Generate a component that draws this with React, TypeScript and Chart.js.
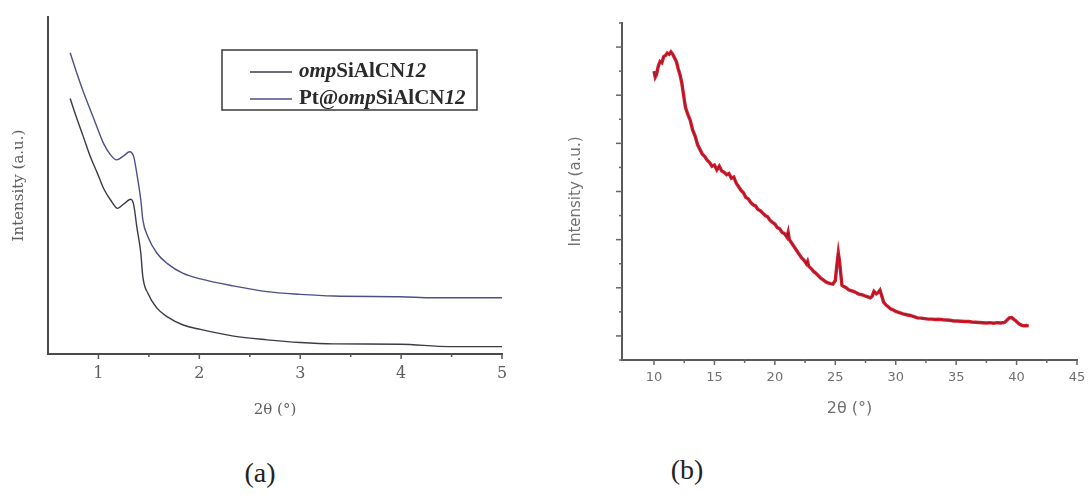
import React, { useEffect, useRef } from "react";
import { Chart, registerables } from "chart.js";

Chart.register(...registerables);

// ---------- Panel (a) data ----------
const legendLabels = ["ompSiAlCN12", "Pt@ompSiAlCN12"];
// rich-text pieces of each legend label (italic flags)
const legendParts = [
  [
    { t: "omp", i: true },
    { t: "SiAlCN", i: false },
    { t: "12", i: true },
  ],
  [
    { t: "Pt@", i: false },
    { t: "omp", i: true },
    { t: "SiAlCN", i: false },
    { t: "12", i: true },
  ],
];

const ompX = [0.72, 0.78, 0.85, 0.92, 0.99, 1.05, 1.12, 1.19, 1.25, 1.32, 1.35, 1.38, 1.42, 1.44, 1.49, 1.58, 1.68, 1.84, 2.01, 2.34, 2.67, 3.0, 3.33, 3.99, 4.48, 5.0];
const ompY = [75.8, 70.4, 64.5, 58.5, 53.6, 49.2, 45.7, 43.2, 44.5, 45.9, 44.2, 37.8, 29.9, 22.9, 18.0, 13.6, 11.1, 8.6, 7.3, 5.3, 4.2, 3.4, 3.0, 2.9, 2.2, 2.2];

const ptX = [0.72, 0.78, 0.85, 0.92, 0.99, 1.05, 1.12, 1.18, 1.25, 1.31, 1.35, 1.38, 1.42, 1.44, 1.49, 1.58, 1.68, 1.84, 2.01, 2.34, 2.67, 3.0, 3.33, 3.99, 4.32, 5.0];
const ptY = [89.4, 83.8, 77.8, 72.4, 67.0, 62.5, 59.1, 57.6, 58.8, 60.0, 58.5, 53.6, 45.7, 39.8, 34.8, 29.9, 26.9, 23.9, 22.3, 20.2, 18.5, 17.7, 17.2, 17.0, 16.7, 16.7];

const aXTicks = [1, 2, 3, 4, 5];
const aXMinor = [1.5, 2.5, 3.5, 4.5];

// ---------- Panel (b) data ----------
const bX = [
  10.0, 10.1, 10.2, 10.35, 10.5, 10.65, 10.8, 10.95, 11.1, 11.25, 11.4, 11.55, 11.7, 11.85, 12.0, 12.15, 12.3, 12.45, 12.6, 12.8,
  13.0, 13.2, 13.4, 13.6, 13.8, 14.0, 14.2, 14.4, 14.6, 14.8, 15.0, 15.2, 15.4, 15.6, 15.8, 16.0, 16.2, 16.4, 16.6, 16.8,
  17.0, 17.2, 17.4, 17.6, 17.8, 18.0, 18.2, 18.4, 18.6, 18.8, 19.0, 19.2, 19.4, 19.6, 19.8, 20.0, 20.2, 20.4, 20.6, 20.8,
  21.0, 21.1, 21.2, 21.4, 21.6, 21.8, 22.0, 22.2, 22.4, 22.6, 22.7, 22.8, 23.0, 23.2, 23.4, 23.6, 23.8, 24.0, 24.2, 24.4,
  24.6, 24.8, 25.0, 25.1, 25.25, 25.35, 25.45, 25.55, 25.7, 25.9, 26.1, 26.3, 26.5, 26.7, 26.9, 27.1, 27.3, 27.5, 27.7, 27.9,
  28.05, 28.2, 28.4, 28.55, 28.7, 28.85, 29.0, 29.2, 29.4, 29.6, 29.8, 30.0, 30.3, 30.6, 30.9, 31.2, 31.5, 31.8, 32.1, 32.4,
  32.7, 33.0, 33.3, 33.6, 33.9, 34.2, 34.5, 34.8, 35.1, 35.4, 35.7, 36.0, 36.3, 36.6, 36.9, 37.2, 37.5, 37.8, 38.1, 38.4,
  38.7, 39.0, 39.2, 39.4, 39.6, 39.8, 40.0, 40.2, 40.4, 40.6, 40.8, 41.0,
];
const bY = [
  11.0, 10.75, 10.85, 11.2, 11.4, 11.35, 11.6, 11.65, 11.75, 11.7, 11.8, 11.7, 11.55, 11.4, 11.1, 10.85, 10.5, 10.0, 9.5, 9.2,
  8.95, 8.55, 8.3, 7.95, 7.75, 7.55, 7.45, 7.3, 7.2, 7.05, 7.1, 6.9, 7.05, 6.85, 6.8, 6.7, 6.75, 6.55, 6.6, 6.35,
  6.2, 6.05, 5.95, 5.75, 5.7, 5.55, 5.45, 5.4, 5.25, 5.2, 5.1, 5.0, 4.95, 4.8, 4.72, 4.65, 4.5, 4.45, 4.3, 4.25,
  4.1, 4.3, 4.0, 3.85, 3.7, 3.55, 3.4, 3.25, 3.15, 3.0, 3.1, 2.9, 2.8, 2.68, 2.6, 2.5, 2.4, 2.33, 2.25, 2.2,
  2.17, 2.15, 2.3, 2.8, 3.45, 3.1, 2.6, 2.1, 2.05, 2.0, 1.92, 1.88, 1.85, 1.8, 1.75, 1.72, 1.7, 1.65, 1.62, 1.58,
  1.65, 1.85, 1.75, 1.8, 1.9, 1.65, 1.4, 1.28, 1.2, 1.12, 1.08, 1.02, 0.97, 0.92, 0.88, 0.85, 0.8, 0.75, 0.74, 0.72,
  0.7, 0.7, 0.68, 0.69, 0.67, 0.66, 0.65, 0.62, 0.62, 0.61, 0.6, 0.6, 0.58, 0.57, 0.56, 0.55, 0.54, 0.55, 0.53, 0.55,
  0.54, 0.56, 0.65, 0.75, 0.76, 0.68, 0.6, 0.5, 0.45, 0.42, 0.43, 0.42,
];

const bXTicks = [10, 15, 20, 25, 30, 35, 40, 45];
const bXMinor = [12.5, 17.5, 22.5, 27.5, 32.5, 37.5, 42.5];
const bYMajor = [0, 2, 4, 6, 8, 10, 12];
const bYMinor = [-1, 1, 3, 5, 7, 9, 11, 13];

const xTitle = "2θ (°)";
const yTitle = "Intensity (a.u.)";

const toPts = (xs: number[], ys: number[]) => xs.map((x, i) => ({ x, y: ys[i] }));

const manualTicks = {
  id: "manualTicks",
  afterDraw(chart: any, _args: any, opts: any) {
    const ctx = chart.ctx;
    const area = chart.chartArea;
    const xs = chart.scales.x;
    const ys = chart.scales.y;
    ctx.save();
    ctx.strokeStyle = opts.color;
    ctx.lineWidth = 1.5;
    const line = (x1: number, y1: number, x2: number, y2: number) => {
      ctx.beginPath();
      ctx.moveTo(x1, y1);
      ctx.lineTo(x2, y2);
      ctx.stroke();
    };
    (opts.xMajor || []).forEach((v: number) => {
      const p = xs.getPixelForValue(v);
      line(p, area.bottom, p, area.bottom + 5);
    });
    (opts.xMinor || []).forEach((v: number) => {
      const p = xs.getPixelForValue(v);
      line(p, area.bottom - 1, p, area.bottom + 3);
    });
    (opts.yMajor || []).forEach((v: number) => {
      const p = ys.getPixelForValue(v);
      line(area.left - 6, p, area.left, p);
    });
    (opts.yMinor || []).forEach((v: number) => {
      const p = ys.getPixelForValue(v);
      line(area.left - 3, p, area.left, p);
    });
    ctx.restore();
  },
};

const richLegend = {
  id: "richLegend",
  afterDraw(chart: any, _args: any, opts: any) {
    if (!opts || !opts.parts) return;
    const ctx = chart.ctx;
    const area = chart.chartArea;
    const bx = area.left + opts.dx;
    const by = area.top + opts.dy;
    ctx.save();
    ctx.strokeStyle = "#3a3a3a";
    ctx.lineWidth = 1.5;
    ctx.strokeRect(bx, by, opts.w, opts.h);
    opts.parts.forEach((parts: any[], r: number) => {
      const ds = chart.data.datasets[r];
      const cy = by + 22 + r * 27;
      ctx.strokeStyle = ds.borderColor;
      ctx.lineWidth = 1.4;
      ctx.beginPath();
      ctx.moveTo(bx + 28, cy);
      ctx.lineTo(bx + 70, cy);
      ctx.stroke();
      let x = bx + 77;
      ctx.fillStyle = "#2a2a2a";
      ctx.textBaseline = "middle";
      parts.forEach((p: any) => {
        ctx.font = (p.i ? "italic " : "") + "bold 21px 'Liberation Serif'";
        ctx.fillText(p.t, x, cy);
        x += ctx.measureText(p.t).width;
      });
    });
    ctx.restore();
  },
};

export default function App() {
  const aRef = useRef<HTMLCanvasElement>(null);
  const bRef = useRef<HTMLCanvasElement>(null);

  useEffect(() => {
    const serifGray = "#5e5e5e";
    const chartA = new Chart(aRef.current as HTMLCanvasElement, {
      type: "line",
      data: {
        datasets: [
          {
            label: legendLabels[0],
            data: toPts(ompX, ompY),
            borderColor: "#3b3b47",
            borderWidth: 1.4,
            pointRadius: 0,
            cubicInterpolationMode: "monotone",
            fill: false,
          },
          {
            label: legendLabels[1],
            data: toPts(ptX, ptY),
            borderColor: "#4d4f88",
            borderWidth: 1.4,
            pointRadius: 0,
            cubicInterpolationMode: "monotone",
            fill: false,
          },
        ],
      },
      options: {
        responsive: false,
        animation: false,
        devicePixelRatio: 1,
        layout: { padding: { left: 0, top: 17, right: 38, bottom: 0 } },
        plugins: {
          legend: { display: false },
          tooltip: { enabled: false },
          manualTicks: { color: "#555", xMajor: aXTicks, xMinor: aXMinor },
          richLegend: { parts: legendParts, dx: 174, dy: 33, w: 255, h: 60 },
        } as any,
        scales: {
          x: {
            type: "linear",
            min: 0.5,
            max: 5,
            afterBuildTicks: (s: any) => {
              s.ticks = aXTicks.map((v) => ({ value: v }));
            },
            afterFit: (s: any) => {
              s.height = 76;
              s.paddingLeft = 0;
              s.paddingRight = 0;
            },
            grid: { display: false, drawTicks: false },
            border: { display: true, color: "#4a4a4a", width: 2 },
            ticks: {
              color: serifGray,
              padding: 10,
              maxRotation: 0,
              autoSkip: false,
              font: { family: "'DejaVu Serif'", size: 16 },
            },
            title: {
              display: true,
              text: xTitle,
              color: serifGray,
              font: { family: "'DejaVu Serif'", size: 15 },
              padding: { top: 0, bottom: 11 },
            },
          },
          y: {
            type: "linear",
            min: 0,
            max: 100,
            afterFit: (s: any) => {
              s.width = 48;
            },
            grid: { display: false, drawTicks: false },
            border: { display: true, color: "#4a4a4a", width: 2 },
            ticks: { display: false },
            title: {
              display: true,
              text: yTitle,
              color: serifGray,
              font: { family: "'DejaVu Serif'", size: 15 },
              padding: { top: 10, bottom: 0 },
            },
          },
        },
      },
      plugins: [manualTicks, richLegend],
    } as any);

    const sansGray = "#707070";
    const chartB = new Chart(bRef.current as HTMLCanvasElement, {
      type: "line",
      data: {
        datasets: [
          {
            label: "core",
            data: toPts(bX, bY),
            borderColor: "rgba(85,20,40,0.55)",
            borderWidth: 1,
            pointRadius: 0,
            tension: 0,
            fill: false,
          },
          {
            label: "XRD",
            data: toPts(bX, bY),
            borderColor: "rgba(214,18,34,0.95)",
            borderWidth: 3.4,
            pointRadius: 0,
            tension: 0,
            fill: false,
          },
        ],
      },
      options: {
        responsive: false,
        animation: false,
        devicePixelRatio: 1,
        layout: { padding: { left: 0, top: 23, right: 11, bottom: 0 } },
        plugins: {
          legend: { display: false },
          tooltip: { enabled: false },
          manualTicks: { color: "#666", xMajor: bXTicks, xMinor: bXMinor, yMajor: bYMajor, yMinor: bYMinor },
        } as any,
        scales: {
          x: {
            type: "linear",
            min: 7.35,
            max: 45,
            afterBuildTicks: (s: any) => {
              s.ticks = bXTicks.map((v) => ({ value: v }));
            },
            afterFit: (s: any) => {
              s.height = 70;
              s.paddingLeft = 0;
              s.paddingRight = 0;
            },
            grid: { display: false, drawTicks: false },
            border: { display: true, color: "#5a5a5a", width: 2 },
            ticks: {
              color: sansGray,
              padding: 10,
              maxRotation: 0,
              autoSkip: false,
              font: { family: "'DejaVu Sans'", size: 13 },
            },
            title: {
              display: true,
              text: xTitle,
              color: sansGray,
              font: { family: "'DejaVu Sans'", size: 16 },
              padding: { top: 0, bottom: 12 },
            },
          },
          y: {
            type: "linear",
            min: -1,
            max: 13,
            afterFit: (s: any) => {
              s.width = 62;
            },
            grid: { display: false, drawTicks: false },
            border: { display: true, color: "#5a5a5a", width: 2 },
            ticks: { display: false },
            title: {
              display: true,
              text: yTitle,
              color: sansGray,
              font: { family: "'DejaVu Sans'", size: 15 },
              padding: { top: 7, bottom: 0 },
            },
          },
        },
      },
      plugins: [manualTicks],
    } as any);

    return () => {
      chartA.destroy();
      chartB.destroy();
    };
  }, []);

  const caption: React.CSSProperties = {
    position: "absolute",
    transform: "translate(-50%, -50%)",
    fontFamily: "'Liberation Serif', serif",
    fontSize: 28,
    color: "#222",
    lineHeight: 1,
  };

  return (
    <div
      style={{
        position: "absolute",
        left: 0,
        top: 0,
        width: 1088,
        height: 502,
        overflow: "hidden",
        background: "#fff",
      }}
    >
      <canvas ref={aRef} width={540} height={430} style={{ position: "absolute", left: 0, top: 0 }} />
      <canvas ref={bRef} width={528} height={430} style={{ position: "absolute", left: 560, top: 0 }} />
      <div style={{ ...caption, left: 260, top: 473 }}>(a)</div>
      <div style={{ ...caption, left: 687, top: 470 }}>(b)</div>
    </div>
  );
}
